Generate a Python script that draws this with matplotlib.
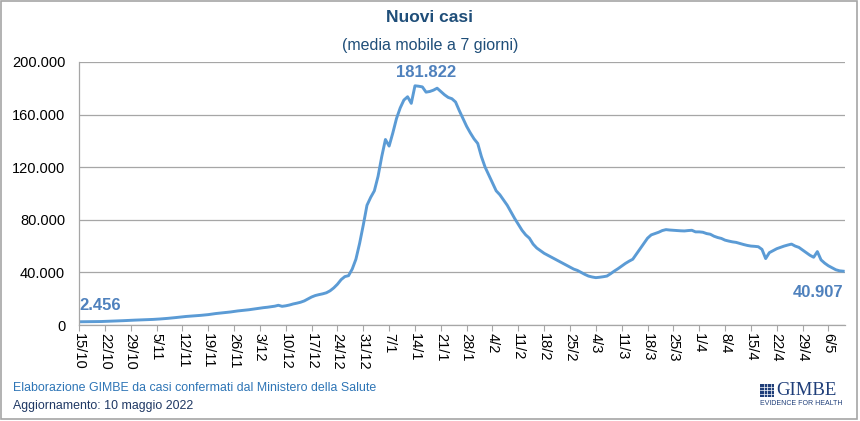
import matplotlib.pyplot as plt
import matplotlib.patches as patches
import numpy as np
import pandas as pd

plt.rcParams['font.family'] = ['Liberation Sans', 'DejaVu Sans']

# media mobile a 7 giorni dei nuovi casi, dal 15/10/2021 al 10/5/2022
casi = [
    2456, 2480, 2500, 2520, 2550, 2600, 2650,
    2750, 2850, 2950, 3050, 3150, 3300, 3450,
    3600, 3700, 3800, 3900, 4000, 4100, 4250,
    4400, 4600, 4800, 5050, 5300, 5600, 5900,
    6200, 6500, 6700, 6900, 7100, 7350, 7600,
    7900, 8300, 8700, 9000, 9300, 9600, 9900,
    10300, 10700, 11000, 11300, 11600, 12000, 12400,
    12800, 13200, 13500, 13900, 14300, 15000, 14200,
    14600, 15200, 16000, 16600, 17300, 18300, 19800,
    21300, 22400, 23100, 23700, 24500, 26000, 28200,
    31000, 34500, 36800, 37500, 42500, 50000, 62000,
    76000, 91000, 97000, 102000, 113000, 128000, 141000,
    136000, 146000, 157000, 165000, 171000, 173500, 168500,
    181822, 181500, 181000, 177000, 177500, 178500, 180000,
    177500, 175000, 173000, 172000, 169500, 163000, 157000,
    151000, 146000, 141500, 138000, 128000, 120000, 114000,
    108000, 102000, 99000, 95000, 91000, 86000, 81000,
    76500, 72000, 68500, 66000, 61500, 58500, 56500,
    54500, 53000, 51500, 50000, 48500, 47000, 45500,
    44000, 42500, 41500, 40000, 38500, 37200, 36500,
    36000, 36300, 36700, 37200, 39000, 41000, 42800,
    44800, 46800, 48500, 50000, 54000, 58000, 62000,
    66000, 68500, 69500, 70500, 71800, 72500, 72200,
    72000, 71800, 71600, 71500, 71800, 72000, 70800,
    70800, 70500, 69500, 69000, 67500, 66500, 65800,
    64500, 63800, 63200, 62800, 62000, 61200, 60500,
    60000, 59800, 59500, 57500, 50500, 55000, 56500,
    58000, 59000, 60000, 60800, 61500, 60000, 59000,
    57000, 55000, 53000, 51500, 55800, 49500, 47000,
    45000, 43500, 42000, 41200, 40907,
]
date = pd.date_range("2021-10-15", periods=len(casi), freq="D")
etichette_x = ["15/10", "22/10", "29/10", "5/11", "12/11", "19/11", "26/11",
               "3/12", "10/12", "17/12", "24/12", "31/12", "7/1", "14/1",
               "21/1", "28/1", "4/2", "11/2", "18/2", "25/2", "4/3", "11/3",
               "18/3", "25/3", "1/4", "8/4", "15/4", "22/4", "29/4", "6/5"]
tick_y = [0, 40000, 80000, 120000, 160000, 200000]
etichette_y = ["0", "40.000", "80.000", "120.000", "160.000", "200.000"]

blu_linea = "#5B9BD5"
blu_etichetta = "#4F81BD"
blu_titolo = "#1F4E79"

fig = plt.figure(figsize=(8.6, 4.21), dpi=100)
ax = fig.add_axes([0.0919, 0.228, 0.8907, 0.625])

ax.plot(date, casi, color=blu_linea, linewidth=2.1, solid_joinstyle="round")

ax.set_ylim(0, 200000)
ax.set_xlim(date[0], date[-1] + pd.Timedelta(hours=12))
ax.set_yticks(tick_y)
ax.set_yticklabels(etichette_y, fontsize=10.5)
ax.set_xticks(date[::7][:len(etichette_x)])
ax.set_xticklabels(etichette_x, rotation=-90, fontsize=10.5, va="top", ha="center")
ax.tick_params(axis="y", length=0, pad=10)
ax.tick_params(axis="x", length=4, color="#A6A6A6", pad=2)
ax.grid(axis="y", color="#A6A6A6", linewidth=0.9)
ax.set_axisbelow(True)
for s in ["top", "right"]:
    ax.spines[s].set_visible(False)
for s in ["left", "bottom"]:
    ax.spines[s].set_color("#A6A6A6")
    ax.spines[s].set_linewidth(0.9)

# etichette dei valori
i_max = int(np.argmax(casi))
ax.annotate("2.456", (date[0], casi[0]), xytext=(0, 6), textcoords="offset points",
            ha="left", va="bottom", fontsize=12, fontweight="bold", color=blu_etichetta)
ax.annotate("181.822", (date[i_max], casi[i_max]), xytext=(8, 4), textcoords="offset points",
            ha="center", va="bottom", fontsize=12, fontweight="bold", color=blu_etichetta)
ax.annotate("40.907", (date[-1], casi[-1]), xytext=(0, -10), textcoords="offset points",
            ha="right", va="top", fontsize=12, fontweight="bold", color=blu_etichetta)

fig.text(0.5, 0.958, "Nuovi casi", ha="center", va="center", fontsize=12.5,
         fontweight="bold", color=blu_titolo)
fig.text(0.5, 0.893, "(media mobile a 7 giorni)", ha="center", va="center",
         fontsize=11.5, color=blu_titolo)

fig.text(0.015, 0.079, "Elaborazione GIMBE da casi confermati dal Ministero della Salute",
         ha="left", va="center", fontsize=8.9, color="#2E75B6")
fig.text(0.015, 0.035, "Aggiornamento: 10 maggio 2022", ha="left", va="center",
         fontsize=8.9, color="#1F3864")

# logo GIMBE
x0, y0, w, h = 0.8837, 0.057, 0.0165, 0.031
fig.add_artist(patches.Rectangle((x0, y0), w, h, transform=fig.transFigure,
                                 facecolor="#1F3E79", edgecolor="none"))
for k in range(1, 4):
    fig.add_artist(plt.Line2D([x0 + k * w / 4] * 2, [y0, y0 + h], transform=fig.transFigure,
                              color="white", linewidth=0.5))
    fig.add_artist(plt.Line2D([x0, x0 + w], [y0 + k * h / 4] * 2, transform=fig.transFigure,
                              color="white", linewidth=0.5))
fig.text(0.9025, 0.072, "GIMBE", ha="left", va="center", fontsize=13.5,
         family="Liberation Serif", color="#1F3E79")
fig.text(0.884, 0.042, "EVIDENCE FOR HEALTH", ha="left", va="center", fontsize=5.0,
         color="#1F3E79")

# cornice
fig.add_artist(patches.Rectangle((0.001, 0.004), 0.996, 0.994, transform=fig.transFigure,
                                 fill=False, edgecolor="#A6A6A6", linewidth=1.2))

fig.savefig("out.png", dpi=100)
